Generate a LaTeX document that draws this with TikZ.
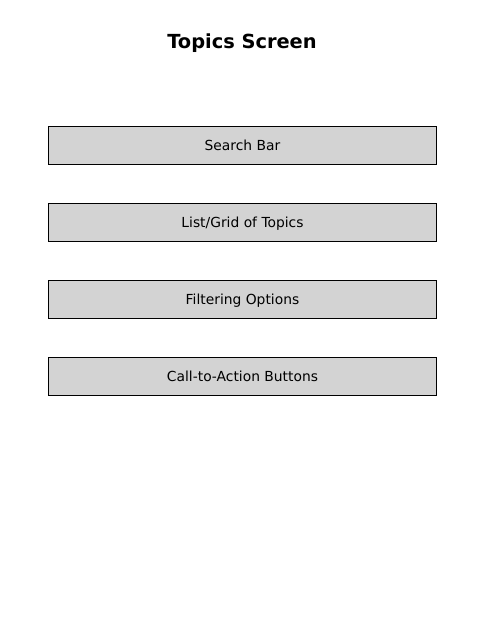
\documentclass[tikz,border=0pt]{standalone}
\usepackage{fontspec}
\setmainfont{DejaVu Sans}
\usepackage{xcolor}
\usetikzlibrary{positioning}
\definecolor{boxgray}{HTML}{D3D3D3}

\begin{document}
\begin{tikzpicture}[x=0.01in, y=-0.01in, node distance=0.38in, every node/.style={font=\fontsize{10pt}{12pt}\selectfont}, box/.style={draw,line width=0.7pt,fill=boxgray,inner sep=0pt,text height=0.85em,text depth=0pt,minimum width=3.87in,minimum height=0.38in,align=center}]
\useasboundingbox (0,0) rectangle (484,636);
\node[font=\fontsize{14pt}{16pt}\selectfont\bfseries] (title) at (242,43) {Topics Screen};
\node[box] (search) at (242.5,145) {Search Bar};
\node[box, below=of search] (topics) {List/Grid of Topics};
\node[box, below=of topics] (filter) {Filtering Options};
\node[box, below=of filter] (cta) {Call-to-Action Buttons};
\end{tikzpicture}
\end{document}
